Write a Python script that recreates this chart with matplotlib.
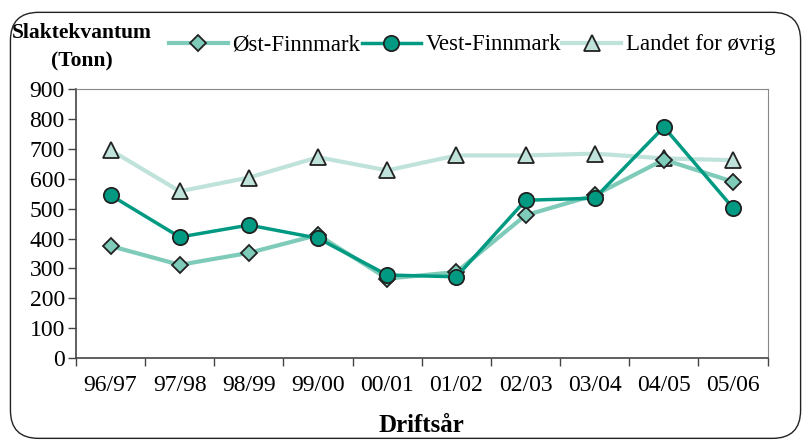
import matplotlib.pyplot as plt
from matplotlib.patches import FancyBboxPatch
import numpy as np

# Slaktekvantum per driftsår
aar = ['96/97', '97/98', '98/99', '99/00', '00/01', '01/02', '02/03', '03/04', '04/05', '05/06']
ost_finnmark = [375, 312, 352, 412, 266, 288, 478, 545, 664, 590]
vest_finnmark = [545, 405, 445, 401, 278, 272, 528, 535, 773, 502]
landet_ovrig = [696, 558, 604, 672, 628, 678, 678, 684, 668, 662]

plt.rcParams['font.family'] = ['Liberation Serif', 'DejaVu Serif']

fig = plt.figure(figsize=(8.03, 4.41), dpi=100)
ax = fig.add_axes([0.0946, 0.188, 0.8614, 0.610])

# ramme rundt hele figuren
boks = FancyBboxPatch((0.013, 0.006), 0.984, 0.966, transform=fig.transFigure,
                      boxstyle='round,pad=0,rounding_size=0.035', fill=False,
                      edgecolor='#222222', linewidth=1.0, mutation_aspect=803/441)
fig.patches.append(boks)

x = np.arange(len(aar))
ax.plot(x, landet_ovrig, color='#bfe3da', lw=3, marker='^', ms=12,
        mfc='#bfe3da', mec='#222222', mew=1.3, label='Landet for øvrig', zorder=2)
ax.plot(x, ost_finnmark, color='#7ecbb9', lw=3, marker='D', ms=8.5,
        mfc='#7ecbb9', mec='#222222', mew=1.3, label='Øst-Finnmark', zorder=3)
ax.plot(x, vest_finnmark, color='#009a82', lw=2.5, marker='o', ms=11,
        mfc='#009a82', mec='#222222', mew=1.3, label='Vest-Finnmark', zorder=4)

ax.set_xlim(-0.5, len(aar) - 0.5)
ax.set_ylim(0, 900)
ax.set_yticks(range(0, 901, 100))
ax.set_xticks(x)
ax.set_xticklabels(aar)
ax.set_xticks(np.arange(-0.5, len(aar)), minor=True)
ax.tick_params(axis='x', which='major', length=0, labelsize=17, pad=12)
ax.tick_params(axis='x', which='minor', length=6, width=1, color='#444444')
ax.tick_params(axis='y', length=6, width=1, color='#444444', labelsize=17, pad=2)

for s in ['top', 'right']:
    ax.spines[s].set_color('#888888')
for s in ['left', 'bottom']:
    ax.spines[s].set_color('#444444')
    ax.spines[s].set_linewidth(1.2)

ax.set_xlabel('Driftsår', fontsize=18, fontweight='bold', labelpad=13)
fig.text(0.102, 0.925, 'Slaktekvantum', fontsize=15.5, fontweight='bold', ha='center', va='center')
fig.text(0.102, 0.86, '(Tonn)', fontsize=15.5, fontweight='bold', ha='center', va='center')

h, l = ax.get_legend_handles_labels()
order = [1, 2, 0]
fig.legend([h[i] for i in order], [l[i] for i in order], ncol=3, frameon=False,
           loc='center left', bbox_to_anchor=(0.196, 0.898), fontsize=16.4,
           handlelength=2.6, handletextpad=0.2, columnspacing=0.05, borderpad=0)

fig.savefig('out.png', dpi=100)
